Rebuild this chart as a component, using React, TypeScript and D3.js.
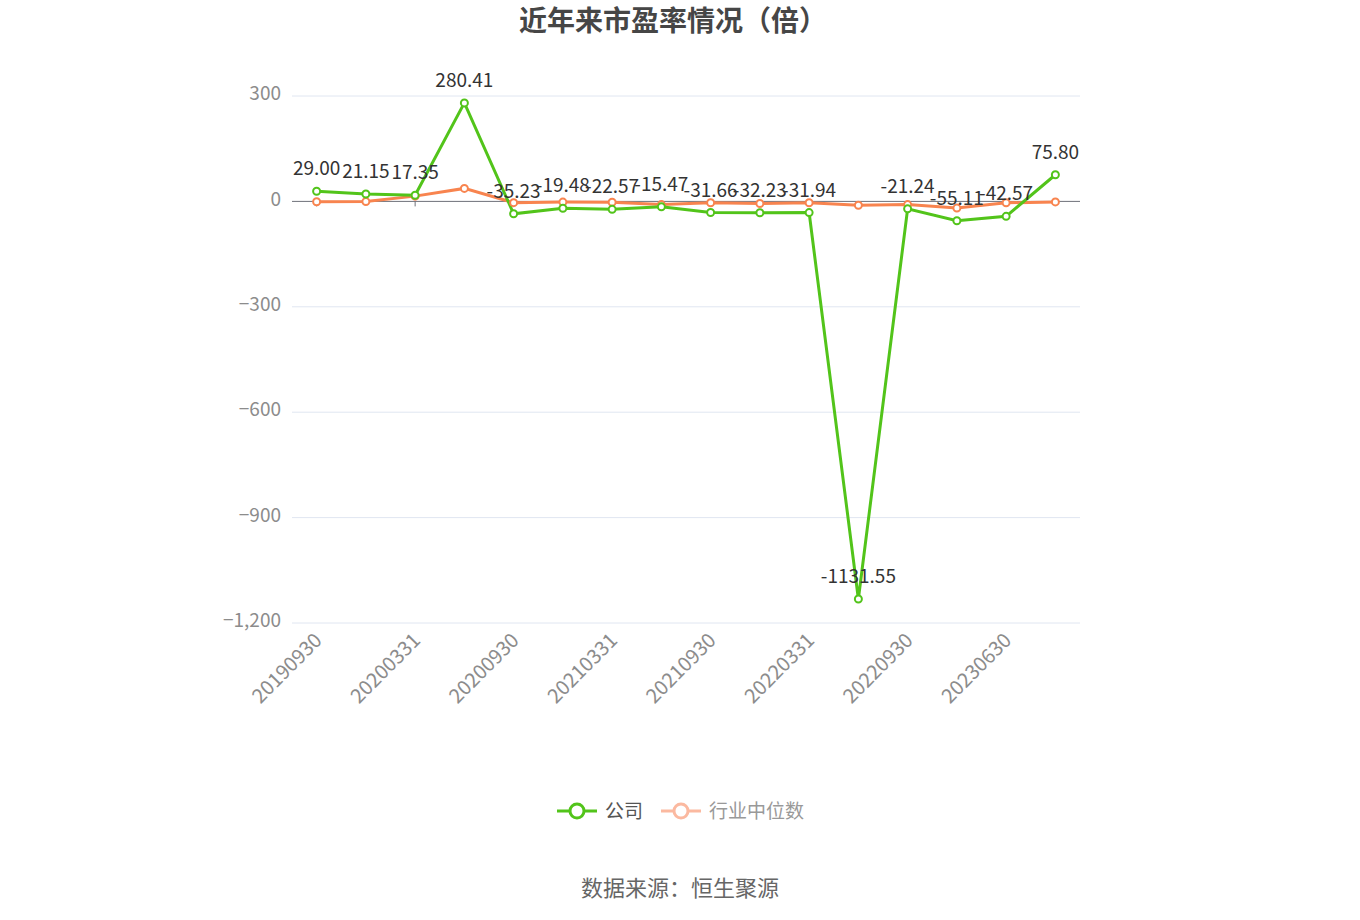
import React from "react";
import * as d3 from "d3";

const categories = [
  "20190930", "20191231", "20200331", "20200630", "20200930", "20201231",
  "20210331", "20210630", "20210930", "20211231", "20220331", "20220630",
  "20220930", "20230331", "20230630", "20230930",
];
const companyValues = [
  29.0, 21.15, 17.35, 280.41, -35.23, -19.48, -22.57, -15.47, -31.66, -32.23,
  -31.94, -1131.55, -21.24, -55.11, -42.57, 75.8,
];
const industryValues = [
  -1, -0.5, 15, 37, -3.5, -2, -2.5, -9, -4, -6, -4, -11, -9, -19, -4, -1.5,
];
const yTicks = [300, 0, -300, -600, -900, -1200];
const seriesNames = ["公司", "行业中位数"];

const W = 1360;
const H = 920;
const FONT = "'Noto Sans CJK SC', 'Noto Sans', sans-serif";
const GREEN = "#52c41a";
const ORANGE = "#f8844f";

export default function App() {
  const left = 292;
  const right = 1080;
  const top = 96;
  const bottom = 623;
  const x = d3.scaleBand<string>().domain(categories).range([left, right]);
  const cx = (c: string) => (x(c) as number) + x.bandwidth() / 2;
  const y = d3.scaleLinear().domain([-1200, 300]).range([bottom, top]);
  const fmt = d3.format(",");

  const line = d3
    .line<number>()
    .x((_, i) => cx(categories[i]))
    .y((d) => y(d));

  return (
    <svg
      width={W}
      height={H}
      style={{ display: "block", position: "absolute", left: 0, top: 0, background: "#fff" }}
      fontFamily={FONT}
    >
      <text x={673} y={31} textAnchor="middle" fontSize={28} fontWeight="bold" fill="#464646">
        近年来市盈率情况（倍）
      </text>

      {yTicks.map((t) => (
        <g key={t}>
          {t !== 0 && (
            <line x1={left} x2={right} y1={y(t)} y2={y(t)} stroke="#e0e6f1" strokeWidth={1} />
          )}
          <text
            x={281}
            y={y(t) - 1}
            dominantBaseline="middle"
            textAnchor="end"
            fontSize={19}
            fill="#8c8c8c"
          >
            {fmt(t)}
          </text>
        </g>
      ))}

      <line x1={left} x2={right} y1={y(0)} y2={y(0)} stroke="#6e7079" strokeWidth={1} />
      {categories.map((c, i) =>
        i % 2 === 0 ? (
          <g key={c}>
            <line x1={cx(c)} x2={cx(c)} y1={y(0)} y2={y(0) + 5} stroke="#6e7079" />
            <text
              transform={`translate(${cx(c) - 4},${bottom + 8}) rotate(-45)`}
              textAnchor="end"
              dy="0.75em"
              fontSize={20}
              fill="#8c8c8c"
            >
              {c}
            </text>
          </g>
        ) : null
      )}

      <path d={line(industryValues) || ""} fill="none" stroke={ORANGE} strokeWidth={3} />
      <path d={line(companyValues) || ""} fill="none" stroke={GREEN} strokeWidth={3} />

      {industryValues.map((v, i) => (
        <circle
          key={"o" + i}
          cx={cx(categories[i])}
          cy={y(v)}
          r={3.5}
          fill="#fff"
          stroke={ORANGE}
          strokeWidth={2}
        />
      ))}
      {companyValues.map((v, i) => (
        <circle
          key={"g" + i}
          cx={cx(categories[i])}
          cy={y(v)}
          r={3.5}
          fill="#fff"
          stroke={GREEN}
          strokeWidth={2}
        />
      ))}

      {companyValues.map((v, i) => (
        <text
          key={"l" + i}
          x={cx(categories[i])}
          y={y(v) - 16}
          textAnchor="middle"
          fontSize={19}
          fill="#333"
        >
          {v.toFixed(2)}
        </text>
      ))}

      <g>
        <line x1={557} x2={597} y1={811} y2={811} stroke={GREEN} strokeWidth={3} />
        <circle cx={577} cy={811} r={7} fill="#fff" stroke={GREEN} strokeWidth={3} />
        <text x={605} y={811} dy="0.35em" fontSize={19} fill="#555">
          {seriesNames[0]}
        </text>
        <line x1={661} x2={701} y1={811} y2={811} stroke="#fbb9a0" strokeWidth={3} />
        <circle cx={681} cy={811} r={7} fill="#fff" stroke="#fbb9a0" strokeWidth={3} />
        <text x={709} y={811} dy="0.35em" fontSize={19} fill="#999">
          {seriesNames[1]}
        </text>
      </g>

      <text x={680} y={888} dy="0.35em" textAnchor="middle" fontSize={22} fill="#666">
        数据来源：恒生聚源
      </text>
    </svg>
  );
}
